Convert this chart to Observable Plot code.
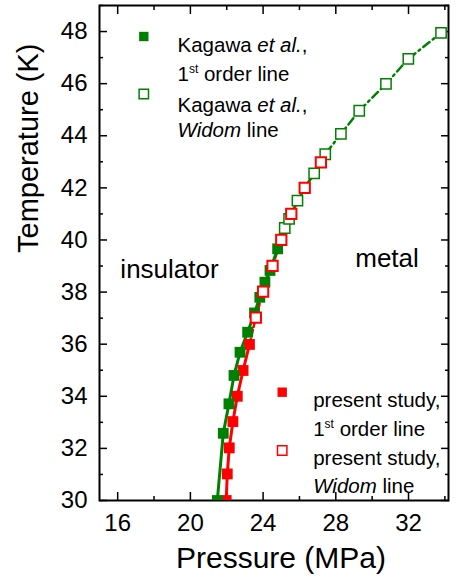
<!DOCTYPE html>
<html>
<head>
<meta charset="utf-8">
<script src="https://cdn.jsdelivr.net/npm/d3@7"></script>
<script src="https://cdn.jsdelivr.net/npm/@observablehq/plot@0.6"></script>
<style>
  html, body { margin: 0; padding: 0; background: #fff; }
  svg { display: block; }
</style>
</head>
<body>
<div id="chart"></div>
<script>
// ---- data ----
const kagawaFirstP = [21.48, 21.81, 22.12, 22.40, 22.73, 23.15, 23.53, 23.82, 24.10, 24.38, 24.80];
const kagawaFirstT = [30.00, 32.58, 33.71, 34.80, 35.69, 36.46, 37.20, 37.80, 38.38, 38.83, 39.66];
const kagawaWidomP = [25.19, 25.43, 25.89, 26.81, 27.42, 28.28, 29.29, 30.76, 31.99, 33.79];
const kagawaWidomT = [40.46, 40.81, 41.51, 42.56, 43.29, 44.07, 44.96, 45.99, 46.95, 47.95];
const presentFirstP = [21.97, 22.03, 22.14, 22.34, 22.58, 22.90, 23.25];
const presentFirstT = [30.00, 31.02, 32.02, 33.03, 34.00, 34.99, 35.99];
const presentWidomP = [23.60, 24.00, 24.52, 25.00, 25.55, 26.29, 27.18];
const presentWidomT = [37.02, 38.02, 39.01, 40.00, 41.00, 42.00, 42.98];

const pressureTicks = [16, 20, 24, 28, 32];
const pressureMinor = [18, 22, 26, 30, 34];
const temperatureTicks = [30, 32, 34, 36, 38, 40, 42, 44, 46, 48];
const temperatureMinor = [31, 33, 35, 37, 39, 41, 43, 45, 47, 49];

const xTitle = "Pressure (MPa)";
const yTitle = "Temperature (K)";
const regionLabels = ["insulator", "metal"];
const kagawaLegend = ["Kagawa <i>et al.</i>,", "1<sup>st</sup> order line", "Kagawa <i>et al.</i>,", "<i>Widom</i> line"];
const presentLegend = ["present study,", "1<sup>st</sup> order line", "present study,", "<i>Widom</i> line"];

// ---- tables ----
const rows = (P, T) => P.map((p, i) => ({p, t: T[i]}));
const kFirst = rows(kagawaFirstP, kagawaFirstT);
const kWidom = rows(kagawaWidomP, kagawaWidomT);
const pFirst = rows(presentFirstP, presentFirstT);
const pWidom = rows(presentWidomP, presentWidomT);
const kWidomLine = [kFirst[kFirst.length - 1], ...kWidom];
const pWidomLine = [pFirst[pFirst.length - 1], ...pWidom];

const GREEN = "#008000", RED = "#ff0000";
const font = "'Liberation Sans', Arial, sans-serif";
const R = 6.1;      // square marker "radius" (side ≈ 1.77 r)
const RL = 5.3;     // legend marker

const legendText = (label, dx, dy) => Plot.text([label], {
  frameAnchor: "top-left", dx, dy, text: d => d, textAnchor: "start",
  fontSize: 20.5, fill: "black"
});
const legendDot = (dx, dy, filled, color) => Plot.dot([0], {
  frameAnchor: "top-left", dx, dy, symbol: "square", r: RL,
  fill: filled ? color : "white", stroke: color, strokeWidth: filled ? 0 : 1.5
});

const plot = Plot.plot({
  width: 457, height: 586,
  marginLeft: 99, marginRight: 9, marginTop: 5, marginBottom: 86,
  style: {fontFamily: font, background: "white", color: "black"},
  x: {domain: [15, 34.2]},
  y: {domain: [30, 49]},
  marks: [
    // axes
    Plot.axisX({ticks: pressureTicks, anchor: "bottom", tickSize: -8, tickPadding: 21, fontSize: 24, label: null, strokeWidth: 1.5, tickFormat: d => d}),
    Plot.axisX({ticks: pressureMinor, anchor: "bottom", tickSize: -4, tickFormat: () => "", label: null, strokeWidth: 1.5}),
    Plot.axisX({ticks: pressureTicks, anchor: "top", tickSize: -8, tickFormat: () => "", label: null, strokeWidth: 1.5}),
    Plot.axisX({ticks: pressureMinor, anchor: "top", tickSize: -4, tickFormat: () => "", label: null, strokeWidth: 1.5}),
    Plot.axisY({ticks: temperatureTicks, anchor: "left", tickSize: -8, tickPadding: 20, fontSize: 24, label: null, strokeWidth: 1.5, tickFormat: d => d}),
    Plot.axisY({ticks: temperatureMinor, anchor: "left", tickSize: -4, tickFormat: () => "", label: null, strokeWidth: 1.5}),
    Plot.axisY({ticks: temperatureTicks, anchor: "right", tickSize: -8, tickFormat: () => "", label: null, strokeWidth: 1.5}),
    Plot.axisY({ticks: temperatureMinor, anchor: "right", tickSize: -4, tickFormat: () => "", label: null, strokeWidth: 1.5}),
    Plot.frame({stroke: "black", strokeWidth: 2}),
    // axis titles
    Plot.text([yTitle], {frameAnchor: "left", dx: -71, rotate: -90, text: d => d, fontSize: 29, fill: "black"}),
    Plot.text([xTitle], {frameAnchor: "bottom", dx: 7, dy: 67, text: d => d, fontSize: 30, fill: "black"}),
    // region labels
    Plot.text([regionLabels[0]], {frameAnchor: "top-left", dx: 70, dy: 254, text: d => d, textAnchor: "middle", fontSize: 26, fill: "black"}),
    Plot.text([regionLabels[1]], {frameAnchor: "top-left", dx: 287.5, dy: 243, text: d => d, textAnchor: "middle", fontSize: 26, fill: "black"}),
    // lines
    Plot.line(pWidomLine, {x: "p", y: "t", stroke: RED, strokeWidth: 2.5, strokeDasharray: "6,3", clip: true}),
    Plot.line(pFirst, {x: "p", y: "t", stroke: RED, strokeWidth: 3, clip: true}),
    Plot.line(kWidomLine, {x: "p", y: "t", stroke: GREEN, strokeWidth: 2.5, strokeDasharray: "8,4,2,4", clip: true}),
    Plot.line(kFirst, {x: "p", y: "t", stroke: GREEN, strokeWidth: 3, clip: true}),
    // points
    Plot.dot(pFirst, {x: "p", y: "t", symbol: "square", r: R, fill: RED, clip: true}),
    Plot.dot(kFirst, {x: "p", y: "t", symbol: "square", r: R, fill: GREEN, clip: true}),
    Plot.dot(kWidom, {x: "p", y: "t", symbol: "square", r: R - 0.3, fill: "white", stroke: GREEN, strokeWidth: 1.5, clip: true}),
    Plot.dot(pWidom, {x: "p", y: "t", symbol: "square", r: R - 0.3, fill: "white", stroke: RED, strokeWidth: 2, clip: true}),
    // legends
    legendDot(44.3, 31, true, GREEN),
    legendDot(44.3, 88.5, false, GREEN),
    legendText(kagawaLegend[0], 78, 31.5),
    legendText(kagawaLegend[1], 78, 61),
    legendText(kagawaLegend[2], 78, 92),
    legendText(kagawaLegend[3], 78, 117),
    legendDot(182.7, 386.7, true, RED),
    legendDot(182.7, 445, false, RED),
    legendText(presentLegend[0], 213.7, 387),
    legendText(presentLegend[1], 213.7, 416),
    legendText(presentLegend[2], 213.7, 445),
    legendText(presentLegend[3], 213.7, 473)
  ]
});

// turn the simple <i>/<sup> markup into tspans
function richify(svg) {
  const NS = "http://www.w3.org/2000/svg";
  svg.querySelectorAll("text").forEach(t => {
    const s = t.textContent;
    if (!s || s.indexOf("<") < 0) return;
    t.textContent = "";
    const re = /<(i|sup)>(.*?)<\/\1>|([^<]+)/g;
    let m, raised = false;
    while ((m = re.exec(s))) {
      const ts = document.createElementNS(NS, "tspan");
      if (m[1] === "i") {
        ts.setAttribute("font-style", "italic");
        ts.textContent = m[2];
      } else if (m[1] === "sup") {
        ts.setAttribute("font-size", "12px");
        ts.setAttribute("dy", "-8");
        ts.textContent = m[2];
        raised = true;
      } else {
        ts.textContent = m[3];
      }
      if (m[1] !== "sup" && raised) { ts.setAttribute("dy", "8"); raised = false; }
      t.appendChild(ts);
    }
  });
}
richify(plot);
document.getElementById("chart").appendChild(plot);
</script>
</body>
</html>
